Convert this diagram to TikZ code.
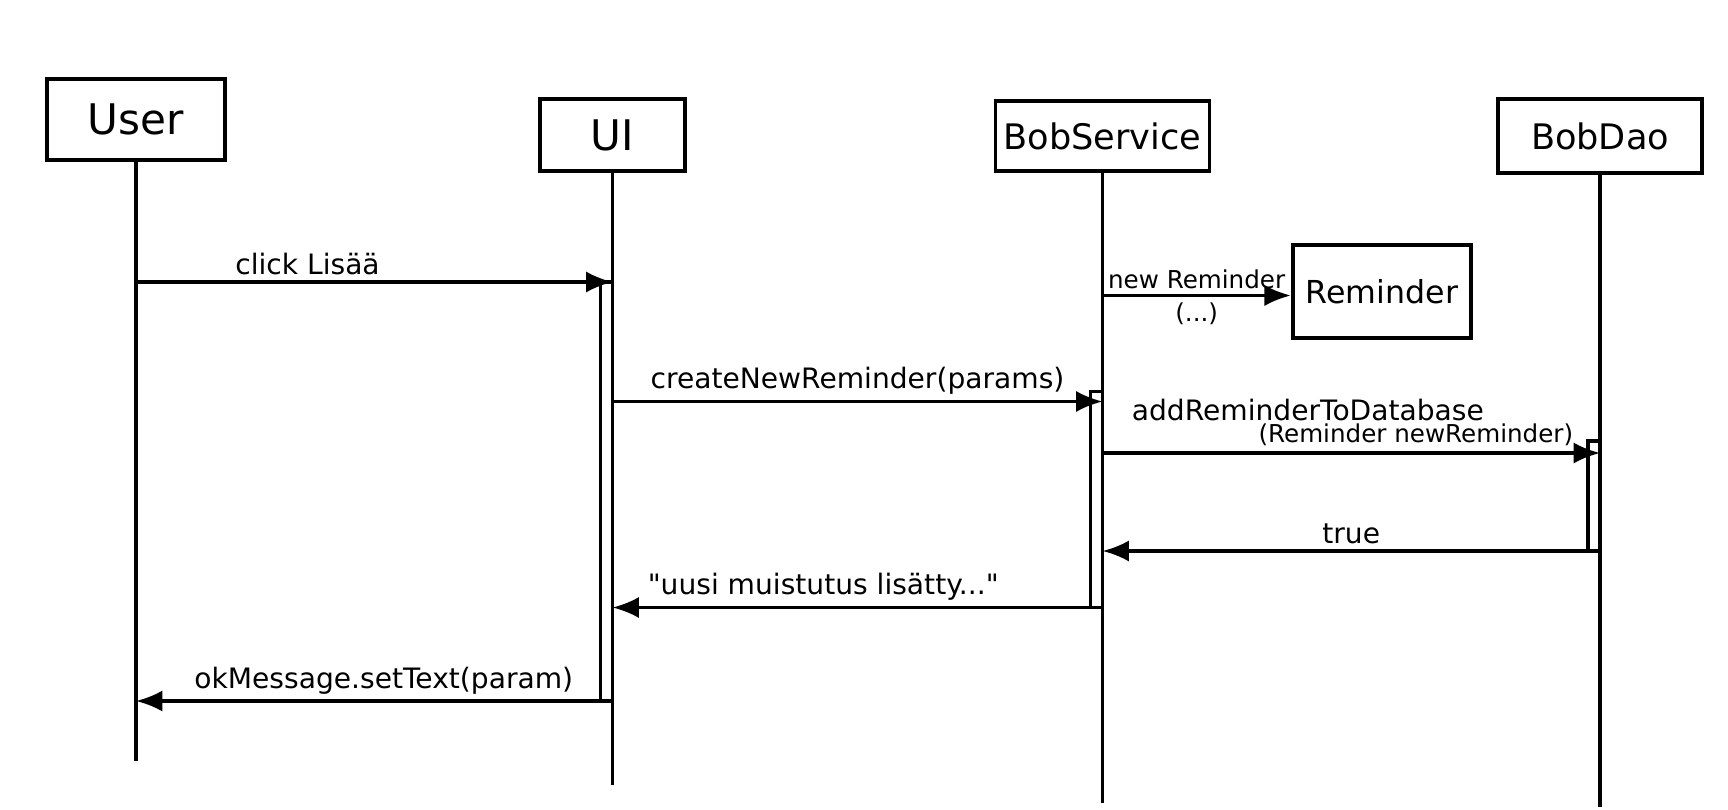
\documentclass[tikz,border=0pt]{standalone}
\usepackage{fontspec}
\setmainfont{DejaVu Sans}
\usetikzlibrary{positioning, calc, arrows.meta}
\tikzset{
  objbox/.style={draw, line width=2.2pt, inner sep=0pt, font=\fontsize{20}{24}\selectfont},
  lifeline/.style={line width=1.8pt},
  actbar/.style={draw, line width=1.8pt, fill=white},
  msg/.style={line width=1.8pt, -{Latex[length=15pt, width=12pt]}},
  msglabel/.style={font=\fontsize{16}{19}\selectfont, inner sep=3pt},
  smalllabel/.style={font=\fontsize{14}{17}\selectfont, inner sep=3pt}
}

\begin{document}
\begin{tikzpicture}
    \useasboundingbox (0,0) rectangle (34.56,16.18);

    % Object boxes
    \node[objbox, minimum width=3.55cm, minimum height=1.61cm, font=\fontsize{24}{28}\selectfont] (user) at (2.72,13.79) {User};
    \node[objbox, minimum width=2.91cm, minimum height=1.43cm, font=\fontsize{24}{28}\selectfont] (ui) at (12.25,13.48) {UI};
    \node[objbox, minimum width=4.28cm, minimum height=1.39cm] (service) at (22.05,13.46) {BobService};
    \node[objbox, minimum width=4.08cm, minimum height=1.48cm] (dao) at (32.0,13.46) {BobDao};
    \node[objbox, minimum width=3.57cm, minimum height=1.87cm, font=\fontsize{18}{22}\selectfont] (reminder) at (27.64,10.35) {Reminder};

    % Lifelines
    \coordinate (userend) at (2.72,0.97);
    \coordinate (uiend) at (12.25,0.48);
    \coordinate (serviceend) at (22.05,0.13);
    \coordinate (daoend) at (32.0,0.05);
    \draw[lifeline] (user) -- (userend);
    \draw[lifeline] (ui) -- (uiend);
    \draw[lifeline] (service) -- (serviceend);
    \draw[lifeline] (dao) -- (daoend);

    % Message levels
    \coordinate (m1) at (0,10.54);
    \coordinate (m2) at (0,10.27);
    \coordinate (m3) at (0,8.15);
    \coordinate (m4) at (0,7.12);
    \coordinate (m5) at (0,5.16);
    \coordinate (m6) at (0,4.03);
    \coordinate (m7) at (0,2.16);

    % Activation bars
    \draw[actbar] ($(m1 -| uiend)+(-0.24,0)$) rectangle (m7 -| uiend);
    \draw[actbar] ($(m3 -| serviceend)+(-0.24,0.2)$) rectangle (m6 -| serviceend);
    \draw[actbar] ($(m4 -| daoend)+(-0.24,0.24)$) rectangle (m5 -| daoend);

    % Messages
    \draw[msg] (m1 -| userend) -- (m1 -| uiend)
        node[msglabel, above, pos=0.36] {click Lisää};
    \draw[msg] (m2 -| serviceend) -- (m2 -| reminder.west)
        node[smalllabel, above, midway] {new Reminder}
        node[smalllabel, below, midway] {(...)};
    \draw[msg] (m3 -| uiend) -- (m3 -| serviceend)
        node[msglabel, above, midway] {createNewReminder(params)};
    \draw[msg] (m4 -| serviceend) -- (m4 -| daoend)
        node[smalllabel, anchor=south east, pos=1, xshift=-0.4cm] {(Reminder newReminder)}
        node[msglabel, anchor=south west, pos=0, xshift=0.45cm, yshift=0.5cm] {addReminderToDatabase};
    \draw[msg] (m5 -| daoend) -- (m5 -| serviceend)
        node[msglabel, above, midway] {true};
    \draw[msg] (m6 -| serviceend) -- (m6 -| uiend)
        node[msglabel, above, pos=0.57] {\textquotedbl uusi muistutus lisätty...\textquotedbl};
    \draw[msg] (m7 -| uiend) -- (m7 -| userend)
        node[msglabel, above, pos=0.48] {okMessage.setText(param)};
\end{tikzpicture}
\end{document}
